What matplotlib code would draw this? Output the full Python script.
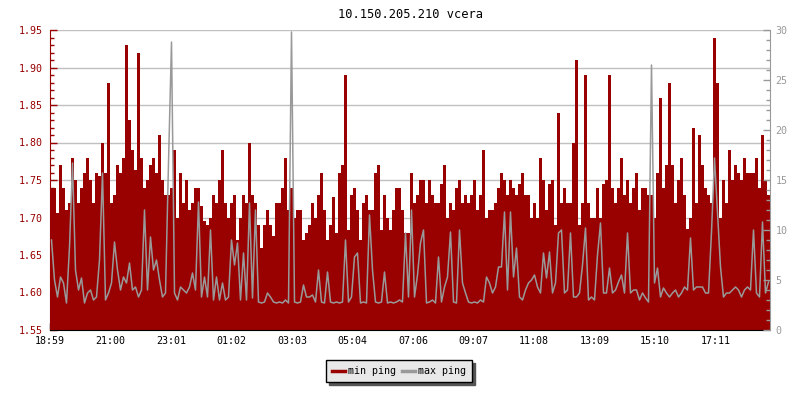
import numpy as np
import matplotlib
matplotlib.use('Agg')
import matplotlib.pyplot as plt
from matplotlib.ticker import MultipleLocator, FormatStrFormatter
from matplotlib.lines import Line2D

plt.rcParams['font.family'] = 'DejaVu Sans Mono'
plt.rcParams['font.size'] = 7.2

# one sample every 6 minutes, starting 18:59
min_ping = [
    1.74, 1.74, 1.706, 1.77, 1.74, 1.71, 1.72, 1.78, 1.75, 1.72,
    1.74, 1.76, 1.78, 1.75, 1.72, 1.76, 1.755, 1.80, 1.76, 1.88,
    1.72, 1.73, 1.77, 1.76, 1.78, 1.93, 1.83, 1.79, 1.763, 1.919,
    1.78, 1.74, 1.75, 1.77, 1.78, 1.76, 1.81, 1.75, 1.73, 1.73,
    1.74, 1.79, 1.70, 1.76, 1.72, 1.75, 1.71, 1.72, 1.74, 1.74,
    1.715, 1.695, 1.69, 1.70, 1.73, 1.72, 1.75, 1.79, 1.72, 1.70,
    1.72, 1.73, 1.67, 1.70, 1.73, 1.72, 1.80, 1.73, 1.72, 1.69,
    1.66, 1.69, 1.71, 1.69, 1.675, 1.72, 1.72, 1.74, 1.78, 1.71,
    1.74, 1.70, 1.71, 1.71, 1.67, 1.68, 1.69, 1.72, 1.70, 1.73,
    1.76, 1.71, 1.67, 1.69, 1.728, 1.68, 1.76, 1.77, 1.89, 1.683,
    1.73, 1.74, 1.71, 1.67, 1.72, 1.73, 1.71, 1.71, 1.76, 1.77,
    1.683, 1.73, 1.70, 1.683, 1.71, 1.74, 1.74, 1.71, 1.68, 1.68,
    1.76, 1.72, 1.73, 1.75, 1.75, 1.72, 1.75, 1.73, 1.72, 1.72,
    1.745, 1.77, 1.70, 1.72, 1.71, 1.74, 1.75, 1.72, 1.73, 1.72,
    1.73, 1.75, 1.71, 1.73, 1.79, 1.70, 1.71, 1.71, 1.72, 1.74,
    1.76, 1.75, 1.73, 1.75, 1.74, 1.73, 1.745, 1.76, 1.73, 1.73,
    1.70, 1.72, 1.70, 1.78, 1.75, 1.71, 1.745, 1.75, 1.69, 1.84,
    1.72, 1.74, 1.72, 1.72, 1.80, 1.91, 1.69, 1.72, 1.89, 1.72,
    1.70, 1.70, 1.74, 1.70, 1.745, 1.75, 1.89, 1.74, 1.72, 1.74,
    1.78, 1.73, 1.75, 1.72, 1.74, 1.76, 1.71, 1.74, 1.74, 1.73,
    1.73, 1.70, 1.76, 1.86, 1.74, 1.77, 1.88, 1.77, 1.72, 1.75,
    1.78, 1.73, 1.685, 1.70, 1.82, 1.72, 1.81, 1.77, 1.74, 1.73,
    1.72, 1.94, 1.88, 1.70, 1.75, 1.72, 1.79, 1.75, 1.77, 1.76,
    1.75, 1.78, 1.76, 1.76, 1.76, 1.78, 1.74, 1.81, 1.75, 1.73,
]

max_ping = [
    9, 5, 3.3, 5.3, 4.7, 2.7, 8.3, 16.7, 6, 4,
    5.2, 2.7, 3.7, 4, 3, 3.3, 7, 15.7, 3, 3.7,
    4.7, 8.8, 6, 4, 5.3, 4.7, 6.7, 4, 4.3, 3.3,
    4, 12, 4, 9.3, 6, 7, 5, 3.3, 3.7, 16.7,
    28.8, 3.7, 3, 4.3, 4, 3.7, 4.3, 5.7, 4, 12.8,
    3.3, 5.3, 3.3, 10, 3, 5.3, 3, 4.7, 3, 3.3,
    9, 6.5, 8.7, 3, 7.7, 3, 12.7, 3.2, 12, 2.8,
    2.7, 2.8, 3.7, 3.3, 2.8, 2.7, 2.8, 2.7, 3, 2.7,
    29.8, 2.8, 2.7, 2.8, 4.5, 3.3, 3.3, 3.5, 2.8, 6,
    2.8, 2.7, 5.8, 2.8, 2.7, 2.8, 2.7, 2.8, 9, 2.8,
    3.3, 7.3, 7.7, 2.7, 2.8, 2.7, 11.5, 6, 2.8, 2.7,
    2.8, 5.8, 2.7, 2.8, 2.7, 2.8, 3, 2.8, 9.7, 3.3,
    12, 3.3, 5.5, 8.7, 10, 2.7, 2.8, 3, 2.7, 7.3,
    2.8, 4.3, 5.3, 9.8, 2.8, 2.7, 10, 4.7, 3.7, 2.8,
    2.7, 2.8, 2.7, 3, 2.8, 5.3, 4.7, 3.7, 4.3, 6.3,
    6.3, 11.8, 4, 11.8, 5.3, 8.2, 3.3, 3, 4, 4.7,
    5, 5.5, 4.3, 3.7, 7.7, 5.2, 7.8, 3.7, 4.7, 9.7,
    10, 3.7, 4, 9.7, 3.3, 3.3, 3.7, 6.5, 10.2, 3,
    3.3, 3, 7.5, 10.7, 3.7, 3.7, 6.2, 3.7, 4, 4.8,
    5.5, 3.7, 9.7, 3.7, 4, 4, 3, 3.7, 3.2, 2.8,
    26.5, 4.7, 6.2, 3.3, 4.2, 3.7, 3.3, 3.7, 4, 3.3,
    3.7, 4.3, 4, 9.2, 4, 4.3, 4.3, 4.3, 3.7, 3.7,
    9.8, 17.2, 11.7, 6.3, 3.3, 3.7, 3.7, 4, 4.3, 4,
    3.3, 4, 4.3, 4, 10, 3.7, 3.3, 10.8, 3.7, 4.8,
]

step_min = 6
tick_labels = ['18:59', '21:00', '23:01', '01:02', '03:03', '05:04',
               '07:06', '09:07', '11:08', '13:09', '15:10', '17:11']
tick_pos = [i * 121 for i in range(len(tick_labels))]

RED = '#990000'
GRAY = '#999999'

edges = np.arange(len(min_ping) + 1) * step_min
centers = edges[:-1] + step_min / 2
mn = np.append(min_ping, min_ping[-1])

fig = plt.figure(figsize=(8, 4), dpi=100)
ax = fig.add_axes([50 / 800, 70 / 400, 720 / 800, 300 / 400])
ax.set_axisbelow(True)
ax.fill_between(edges, 1.5, mn, step='post', color=RED, lw=0)
ax.set_xlim(0, edges[-1])
ax.set_ylim(1.55, 1.95)
ax.yaxis.set_major_locator(MultipleLocator(0.05))
ax.yaxis.set_minor_locator(MultipleLocator(0.01))
ax.yaxis.set_major_formatter(FormatStrFormatter('%.2f'))
ax.grid(axis='y', color='#c0c0c0', lw=1)
ax.set_xticks(tick_pos)
ax.set_xticklabels(tick_labels)
ax.tick_params(axis='y', which='major', direction='in', length=5, width=1,
               colors=RED, pad=5)
ax.tick_params(axis='y', which='minor', direction='in', length=3, width=1,
               colors=RED)
ax.tick_params(axis='x', direction='in', length=5, width=1, colors='black', pad=4)
ax.spines['left'].set_color(RED)
ax.spines['bottom'].set_color('black')
ax.spines['top'].set_visible(False)
ax.spines['right'].set_visible(False)
ax.set_title('10.150.205.210 vcera', pad=9)

ax2 = ax.twinx()
ax2.plot(centers, max_ping, color=GRAY, lw=1.1)
ax2.set_ylim(0, 30)
ax2.set_xlim(0, edges[-1])
ax2.yaxis.set_major_locator(MultipleLocator(5))
ax2.yaxis.set_minor_locator(MultipleLocator(1))
ax2.tick_params(axis='y', which='major', direction='in', length=5, width=1,
                colors=GRAY, pad=4)
ax2.tick_params(axis='y', which='minor', direction='in', length=3, width=1,
                colors=GRAY)
ax2.spines['right'].set_color(GRAY)
for s in ['top', 'left', 'bottom']:
    ax2.spines[s].set_visible(False)

handles = [Line2D([], [], color=RED, lw=2.5), Line2D([], [], color=GRAY, lw=2.5)]
leg = fig.legend(handles, ['min ping', 'max ping'], loc='center',
                 bbox_to_anchor=(399 / 800, 1 - 371 / 400), ncol=2,
                 fancybox=False, facecolor='#e8e8e8', edgecolor='black',
                 framealpha=1, handlelength=1.3, handletextpad=0.3,
                 columnspacing=0.6, borderpad=0.6, borderaxespad=0,
                 shadow={'color': '#555555', 'alpha': 1})
leg.get_frame().set_linewidth(1)

fig.savefig('out.png', dpi=100)
